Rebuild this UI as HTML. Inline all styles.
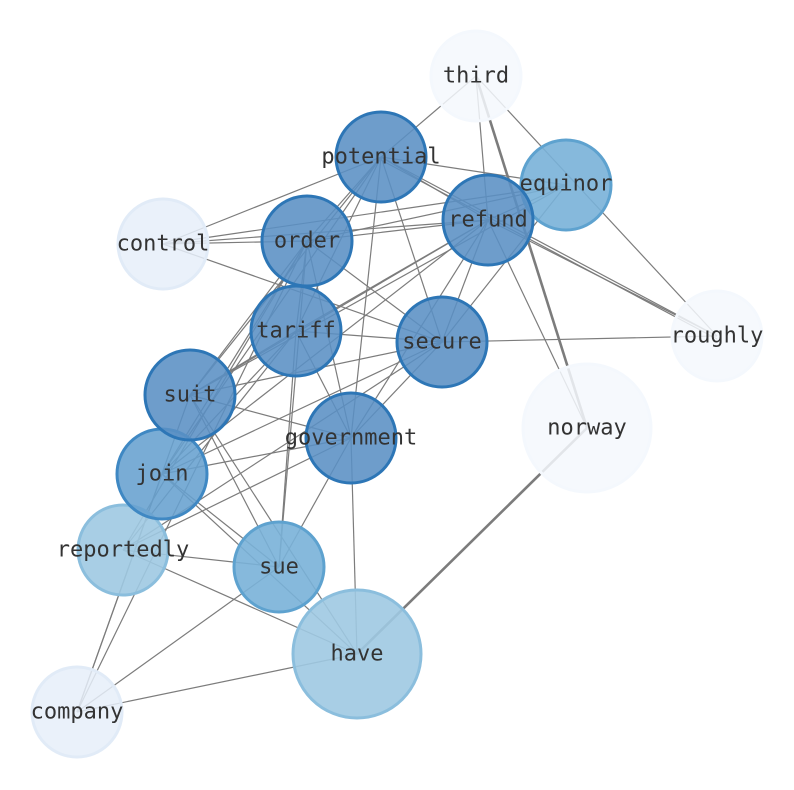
<!DOCTYPE html>
<html><head><meta charset="utf-8"><style>body{margin:0;background:#fff}svg{display:block}text{font-family:"DejaVu Sans Mono","Liberation Mono",monospace;font-size:22px;fill:#333;text-anchor:middle;dominant-baseline:central}</style></head><body>
<svg width="794" height="790" viewBox="0 0 794 790">
<g stroke="#6e6e6e" stroke-width="1.2" fill="none" opacity="0.9">
<line x1="476" y1="76" x2="381" y2="157"/><line x1="476" y1="76" x2="488" y2="220"/><line x1="476" y1="76" x2="717" y2="336"/>
<line x1="381" y1="157" x2="163" y2="244"/><line x1="381" y1="157" x2="307" y2="241"/><line x1="381" y1="157" x2="296" y2="331"/><line x1="381" y1="157" x2="190" y2="395"/><line x1="381" y1="157" x2="162" y2="474"/><line x1="381" y1="157" x2="351" y2="438"/><line x1="381" y1="157" x2="442" y2="342"/><line x1="381" y1="157" x2="566" y2="185"/><line x1="381" y1="157" x2="488" y2="220"/><line x1="381" y1="157" x2="717" y2="336"/><line x1="381" y1="160" x2="717" y2="339"/>
<line x1="488" y1="220" x2="163" y2="244"/><line x1="488" y1="220" x2="307" y2="241"/><line x1="488" y1="220" x2="566" y2="185"/><line x1="488" y1="220" x2="296" y2="331"/><line x1="488" y1="220" x2="190" y2="395"/><line x1="488" y1="220" x2="442" y2="342"/><line x1="488" y1="220" x2="351" y2="438"/><line x1="488" y1="220" x2="587" y2="428"/><line x1="488" y1="220" x2="717" y2="336"/><line x1="488" y1="220" x2="162" y2="474"/>
<line x1="566" y1="185" x2="163" y2="244"/><line x1="566" y1="185" x2="307" y2="241"/><line x1="566" y1="185" x2="442" y2="342"/><line x1="566" y1="185" x2="190" y2="395"/>
<line x1="163" y1="244" x2="307" y2="241"/><line x1="163" y1="244" x2="442" y2="342"/>
<line x1="307" y1="241" x2="296" y2="331"/><line x1="307" y1="241" x2="190" y2="395"/><line x1="307" y1="241" x2="162" y2="474"/><line x1="307" y1="241" x2="279" y2="567"/><line x1="307" y1="241" x2="351" y2="438"/><line x1="307" y1="241" x2="442" y2="342"/><line x1="307" y1="241" x2="77" y2="712"/><line x1="307" y1="241" x2="123" y2="550"/>
<line x1="296" y1="331" x2="442" y2="342"/><line x1="296" y1="331" x2="190" y2="395"/><line x1="296" y1="331" x2="162" y2="474"/><line x1="296" y1="331" x2="351" y2="438"/><line x1="296" y1="331" x2="279" y2="567"/><line x1="296" y1="331" x2="123" y2="550"/>
<line x1="442" y1="342" x2="717" y2="336"/><line x1="442" y1="342" x2="190" y2="395"/><line x1="442" y1="342" x2="162" y2="474"/><line x1="442" y1="342" x2="351" y2="438"/><line x1="442" y1="342" x2="123" y2="550"/>
<line x1="190" y1="395" x2="351" y2="438"/><line x1="190" y1="395" x2="279" y2="567"/><line x1="190" y1="395" x2="357" y2="654"/><line x1="190" y1="395" x2="77" y2="712"/>
<line x1="351" y1="438" x2="162" y2="474"/><line x1="351" y1="438" x2="123" y2="550"/><line x1="351" y1="438" x2="279" y2="567"/><line x1="351" y1="438" x2="357" y2="654"/>
<line x1="162" y1="474" x2="279" y2="567"/><line x1="162" y1="474" x2="357" y2="654"/><line x1="162" y1="474" x2="77" y2="712"/>
<line x1="123" y1="550" x2="279" y2="567"/><line x1="123" y1="550" x2="357" y2="654"/>
<line x1="279" y1="567" x2="77" y2="712"/><line x1="357" y1="654" x2="77" y2="712"/>
<line x1="476" y1="76" x2="587" y2="428" stroke-width="2.6"/><line x1="357" y1="654" x2="587" y2="428" stroke-width="2.6"/>
</g>
<g stroke-width="3">
<circle cx="476" cy="76" r="45" fill="#f4f8fd" stroke="#f4f8fd" fill-opacity="0.85"/>
<circle cx="717" cy="336" r="45" fill="#f4f8fd" stroke="#f4f8fd" fill-opacity="0.85"/>
<circle cx="587" cy="428" r="64" fill="#f4f8fd" stroke="#f4f8fd" fill-opacity="0.85"/>
<circle cx="163" cy="244" r="45" fill="#e6eff9" stroke="#e1ebf7" fill-opacity="0.85"/>
<circle cx="77" cy="712" r="45" fill="#e6eff9" stroke="#e1ebf7" fill-opacity="0.85"/>
<circle cx="123" cy="550" r="45" fill="#9fc9e2" stroke="#8bbedd" fill-opacity="0.9"/>
<circle cx="357" cy="654" r="64" fill="#9fc9e2" stroke="#8bbedd" fill-opacity="0.9"/>
<circle cx="566" cy="185" r="45" fill="#79b1d8" stroke="#5ea2cf" fill-opacity="0.9"/>
<circle cx="279" cy="567" r="45" fill="#79b1d8" stroke="#5ea2cf" fill-opacity="0.9"/>
<circle cx="162" cy="474" r="45" fill="#67a0cf" stroke="#3f88c3" fill-opacity="0.88"/>
<circle cx="381" cy="157" r="45" fill="#5a90c4" stroke="#2d76b6" fill-opacity="0.88"/>
<circle cx="488" cy="220" r="45" fill="#5a90c4" stroke="#2d76b6" fill-opacity="0.88"/>
<circle cx="307" cy="241" r="45" fill="#5a90c4" stroke="#2d76b6" fill-opacity="0.88"/>
<circle cx="296" cy="331" r="45" fill="#5a90c4" stroke="#2d76b6" fill-opacity="0.88"/>
<circle cx="442" cy="342" r="45" fill="#5a90c4" stroke="#2d76b6" fill-opacity="0.88"/>
<circle cx="190" cy="395" r="45" fill="#5a90c4" stroke="#2d76b6" fill-opacity="0.88"/>
<circle cx="351" cy="438" r="45" fill="#5a90c4" stroke="#2d76b6" fill-opacity="0.88"/>
</g>
<text x="476" y="76">third</text><text x="381" y="157">potential</text><text x="566" y="184">equinor</text><text x="488" y="220">refund</text><text x="163" y="244">control</text><text x="307" y="241">order</text><text x="296" y="331">tariff</text><text x="442" y="342">secure</text><text x="717" y="336">roughly</text><text x="587" y="428">norway</text><text x="190" y="395">suit</text><text x="351" y="438">government</text><text x="162" y="474">join</text><text x="123" y="550">reportedly</text><text x="279" y="567">sue</text><text x="357" y="654">have</text><text x="77" y="712">company</text>
</svg>
</body></html>
